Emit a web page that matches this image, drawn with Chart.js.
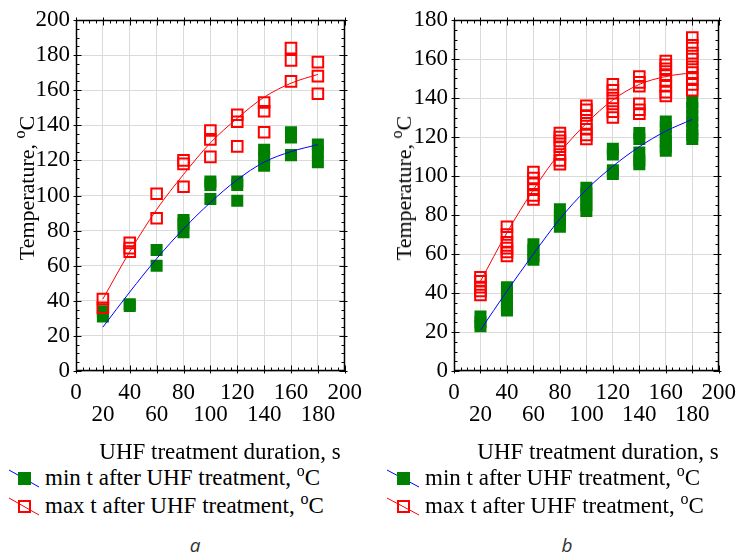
<!DOCTYPE html>
<html>
<head>
<meta charset="utf-8">
<script src="https://cdn.jsdelivr.net/npm/chart.js@4"></script>
<style>
  html, body { margin: 0; padding: 0; background: #fff; }
  #wrap { position: relative; width: 747px; height: 554px; overflow: hidden; font-family: "Liberation Serif", serif; color: #000; }
  canvas { position: absolute; top: 0; }
  .ytitle { position: absolute; font-size: 22px; white-space: nowrap; transform: translate(-50%, -50%) rotate(-90deg); }
  .xtitle { position: absolute; font-size: 23px; white-space: nowrap; transform: translate(-50%, -50%); top: 452px; }
  .leg { position: absolute; font-size: 23px; white-space: nowrap; display: flex; align-items: center; height: 26px; }
  .leg svg { margin-right: 5px; }
  sup { font-size: 16px; vertical-align: 0; position: relative; top: -9px; }
  .panel { position: absolute; top: 545px; font-family: "Open Sans", sans-serif; font-style: italic; font-size: 19px; color: #333; transform: translate(-50%, -50%); }
</style>
</head>
<body>
<div id="wrap">
  <canvas id="chartA" width="373" height="440" style="left:0"></canvas>
  <canvas id="chartB" width="374" height="440" style="left:373px"></canvas>

  <div class="ytitle" style="left:27px; top:188px">Temperature, <sup>o</sup>C</div>
  <div class="ytitle" style="left:404px; top:188px">Temperature, <sup>o</sup>C</div>

  <div class="xtitle" style="left:220px">UHF treatment duration, s</div>
  <div class="xtitle" style="left:598px">UHF treatment duration, s</div>

  <div class="leg" style="left:8px; top:465px"><svg width="32" height="24"><line x1="1" y1="4" x2="31" y2="21" stroke="#0000ff" stroke-width="1"/><rect x="10" y="6" width="13" height="13" fill="#008000"/></svg><span>min t after UHF treatment, <sup>o</sup>C</span></div>
  <div class="leg" style="left:8px; top:493px"><svg width="32" height="24"><line x1="1" y1="4" x2="31" y2="21" stroke="#ff0000" stroke-width="1"/><rect x="11" y="7" width="11" height="11" fill="none" stroke="#ff0000" stroke-width="2"/></svg><span>max t after UHF treatment, <sup>o</sup>C</span></div>

  <div class="leg" style="left:386px; top:465px"><svg width="34" height="24"><line x1="1" y1="4" x2="33" y2="21" stroke="#0000ff" stroke-width="1"/><rect x="11" y="6" width="13" height="13" fill="#008000"/></svg><span>min t after UHF treatment, <sup>o</sup>C</span></div>
  <div class="leg" style="left:386px; top:493px"><svg width="34" height="24"><line x1="1" y1="4" x2="33" y2="21" stroke="#ff0000" stroke-width="1"/><rect x="12" y="7" width="11" height="11" fill="none" stroke="#ff0000" stroke-width="2"/></svg><span>max t after UHF treatment, <sup>o</sup>C</span></div>

  <div class="panel" style="left:195px">a</div>
  <div class="panel" style="left:567px">b</div>
</div>

<script>
// treatment durations, s
const durations = [20, 40, 60, 80, 100, 120, 140, 160, 180];

// panel a: measured temperatures per duration
const minA = [[34, 31], [38, 37], [69, 60], [86, 84, 79], [108, 106, 98], [108, 106, 97], [126, 122, 117], [136, 133, 123], [129, 125, 119]];
const maxA = [[41, 36], [73, 70, 68], [101, 87], [120, 118, 105], [137, 132, 122], [146, 142, 128], [153, 148, 136], [184, 177, 165], [176, 168, 158]];
const fitMinA = [25, 45, 64, 81, 96, 109, 119, 125, 129];
const fitMaxA = [41, 68, 92, 112, 130, 144, 156, 164, 169];

// panel b
const minB = [
  [28, 25, 23],
  [43, 40, 36, 33, 31],
  [65, 62, 59, 57],
  [83, 80, 77, 74],
  [94, 91, 88, 85, 82],
  [114, 111, 103, 101],
  [122, 119, 112, 108, 106],
  [128, 125, 121, 118, 115, 113],
  [138, 135, 131, 128, 124, 121, 119],
];
const maxB = [
  [48, 46, 43, 41, 39],
  [74, 70, 66, 63, 61, 59],
  [102, 99, 96, 93, 90, 88],
  [122, 120, 118, 115, 111, 108, 106],
  [136, 134, 131, 127, 124, 121, 119],
  [147, 144, 140, 137, 133, 130],
  [151, 148, 146, 137, 134, 132],
  [159, 157, 155, 152, 149, 146, 143, 141],
  [171, 167, 163, 160, 156, 153, 150, 147, 144],
];
const fitMinB = [21, 41, 60, 78, 93, 105, 115, 123, 129];
const fitMaxB = [46, 71, 93, 112, 127, 139, 147, 151, 153];

const xTicks = [0, 20, 40, 60, 80, 100, 120, 140, 160, 180, 200];

const FONT = { family: "Liberation Serif", size: 23, lineHeight: 0.95 };

function points(groups) {
  return groups.flatMap((vals, i) => vals.map((v) => ({ x: durations[i], y: v })));
}

function curve(vals) {
  return vals.map((v, i) => ({ x: durations[i], y: v }));
}

// frame with inner minor ticks on all four sides
const frameTicks = {
  id: "frameTicks",
  afterDraw(chart) {
    const { ctx, chartArea: a, scales: { x, y } } = chart;
    const L = Math.round(a.left) + 0.5, R = Math.round(a.right) - 0.5;
    const T = Math.round(a.top) + 0.5, B = Math.round(a.bottom) - 0.5;
    ctx.save();
    ctx.strokeStyle = "#000";
    ctx.lineWidth = 1;
    ctx.beginPath();
    for (let v = x.min; v <= x.max; v += 5) {
      const px = Math.round(x.getPixelForValue(v)) + 0.5;
      const major = v % 20 === 0;
      const len = major ? 5 : 3;
      ctx.moveTo(px, B + (major ? 3 : 0)); ctx.lineTo(px, B - len);
      ctx.moveTo(px, T - (major ? 3 : 0)); ctx.lineTo(px, T + len);
    }
    for (let v = y.min; v <= y.max; v += 5) {
      const py = Math.round(y.getPixelForValue(v)) + 0.5;
      const major = v % 20 === 0;
      const len = major ? 5 : 3;
      ctx.moveTo(L - (major ? 3 : 0), py); ctx.lineTo(L + len, py);
      ctx.moveTo(R + (major ? 3 : 0), py); ctx.lineTo(R - len, py);
    }
    ctx.stroke();
    ctx.lineWidth = 1.5;
    ctx.strokeRect(L, T, R - L, B - T);
    ctx.restore();
  },
};

function makeChart(id, minG, maxG, fitMin, fitMax, yMax, yWidth, rightPad) {
  return new Chart(document.getElementById(id), {
    type: "scatter",
    data: {
      datasets: [
        { data: curve(fitMin), showLine: true, borderColor: "#0000ff", borderWidth: 1, pointRadius: 0, cubicInterpolationMode: "monotone", order: 0 },
        { data: curve(fitMax), showLine: true, borderColor: "#ff0000", borderWidth: 1, pointRadius: 0, cubicInterpolationMode: "monotone", order: 0 },
        { data: points(minG), pointStyle: "rect", pointRadius: 8.5, backgroundColor: "#008000", borderColor: "#008000", borderWidth: 0, order: 2 },
        { data: points(maxG), pointStyle: "rect", pointRadius: 7.5, backgroundColor: "rgba(0,0,0,0)", borderColor: "#ff0000", borderWidth: 2, order: 1 },
      ],
    },
    options: {
      responsive: false,
      animation: false,
      events: [],
      layout: { padding: { top: 20, right: rightPad, left: 0, bottom: 0 } },
      plugins: { legend: { display: false }, tooltip: { enabled: false } },
      scales: {
        x: {
          type: "linear",
          min: 0,
          max: 200,
          afterBuildTicks: (s) => { s.ticks = xTicks.map((v) => ({ value: v })); },
          afterFit: (s) => { s.height = 69; },
          grid: { color: "#dadada", drawTicks: false },
          border: { display: false },
          ticks: {
            autoSkip: false,
            maxRotation: 0,
            padding: 11,
            color: "#000",
            font: FONT,
            callback: (v) => (v % 40 === 0 ? String(v) : ["", String(v)]),
          },
        },
        y: {
          min: 0,
          max: yMax,
          afterFit: (s) => { s.width = yWidth; },
          grid: { color: "#dadada", drawTicks: false },
          border: { display: false },
          ticks: { stepSize: 20, padding: 6, color: "#000", font: FONT },
        },
      },
    },
    plugins: [frameTicks],
  });
}

makeChart("chartA", minA, maxA, fitMinA, fitMaxA, 200, 76, 26);
makeChart("chartB", minB, maxB, fitMinB, fitMaxB, 180, 81, 21);
</script>
</body>
</html>
